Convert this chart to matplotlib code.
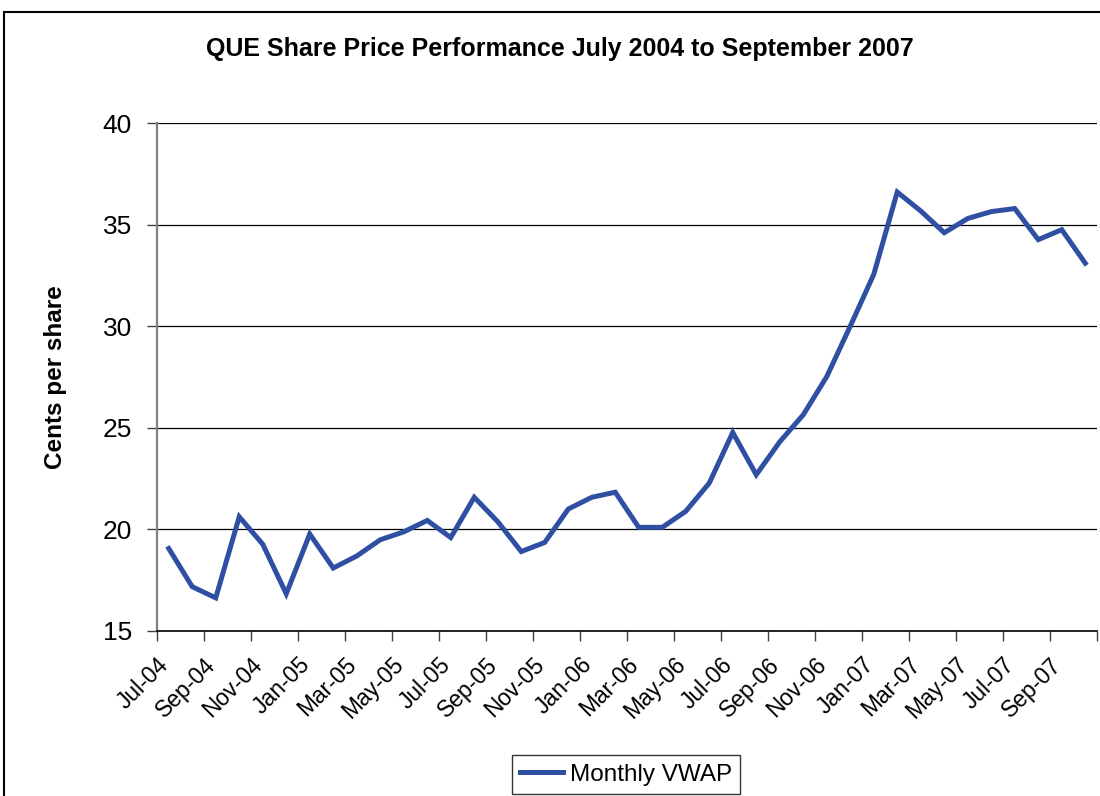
# QUE share price chart, monthly VWAP July 2004 - October 2007
import matplotlib.pyplot as plt
from matplotlib.patches import Rectangle
import numpy as np

plt.rcParams['font.family'] = ['Liberation Sans', 'DejaVu Sans']

# month labels for each data point
months = ["Jul-04", "Aug-04", "Sep-04", "Oct-04", "Nov-04", "Dec-04",
          "Jan-05", "Feb-05", "Mar-05", "Apr-05", "May-05", "Jun-05",
          "Jul-05", "Aug-05", "Sep-05", "Oct-05", "Nov-05", "Dec-05",
          "Jan-06", "Feb-06", "Mar-06", "Apr-06", "May-06", "Jun-06",
          "Jul-06", "Aug-06", "Sep-06", "Oct-06", "Nov-06", "Dec-06",
          "Jan-07", "Feb-07", "Mar-07", "Apr-07", "May-07", "Jun-07",
          "Jul-07", "Aug-07", "Sep-07", "Oct-07"]

# monthly VWAP in cents
vwap = [19.06, 17.18, 16.63, 20.62, 19.27, 16.83,
        19.77, 18.10, 18.69, 19.49, 19.88, 20.44,
        19.60, 21.58, 20.38, 18.91, 19.36, 21.00,
        21.58, 21.83, 20.10, 20.10, 20.89, 22.28,
        24.77, 22.69, 24.31, 25.64, 27.52, 30.00,
        32.55, 36.60, 35.67, 34.60, 35.30, 35.64,
        35.79, 34.26, 34.75, 33.10]

y_ticks = [15, 20, 25, 30, 35, 40]

fig = plt.figure(figsize=(11, 7.96), dpi=100)
ax = fig.add_axes([157 / 1100, 1 - 631 / 796, 940 / 1100, 508 / 796])

x = np.arange(len(months))
ax.plot(x, vwap, color="#2F50A2", lw=3.6, solid_joinstyle="miter",
        label="Monthly VWAP", zorder=3)

ax.set_xlim(-0.5, len(months) - 0.5)
ax.set_ylim(15, 40)
ax.set_yticks(y_ticks)
ax.tick_params(axis="y", labelsize=19, length=7, width=1, color="#404040", pad=11)
ax.yaxis.grid(True, color="black", lw=0.9)

# tick marks between every second category, labels hang off the tick marks
ax.set_xticks(np.arange(-0.5, len(months), 2))
ax.set_xticklabels(months[::2] + [""], rotation=45, ha="right",
                   rotation_mode="anchor", fontsize=16.5)
ax.tick_params(axis="x", length=7, width=1, color="#404040", pad=9)

for side in ["top", "right"]:
    ax.spines[side].set_visible(False)
ax.spines["left"].set_color("#808080")
ax.spines["left"].set_linewidth(1.6)
ax.spines["bottom"].set_linewidth(1.2)

ax.set_ylabel("Cents per share", fontsize=17.5, fontweight="bold", labelpad=26)
fig.text(560 / 1100, 1 - 49 / 796, "QUE Share Price Performance July 2004 to September 2007",
         ha="center", va="center", fontsize=18, fontweight="bold")

leg = ax.legend(loc="upper center", bbox_to_anchor=(626 / 1100, 1 - 755 / 796),
                bbox_transform=fig.transFigure, fontsize=17.5, frameon=True,
                fancybox=False, edgecolor="black", handlelength=1.75,
                borderpad=0.35, handletextpad=0.3, borderaxespad=0)
leg.get_frame().set_linewidth(1.0)

# outer chart border
fig.patches.append(Rectangle((4 / 1100, -0.05), 1.1, 1 - 12 / 796 + 0.05,
                             transform=fig.transFigure, fill=False,
                             edgecolor="black", lw=1.5))

fig.savefig("out.png", dpi=100)
